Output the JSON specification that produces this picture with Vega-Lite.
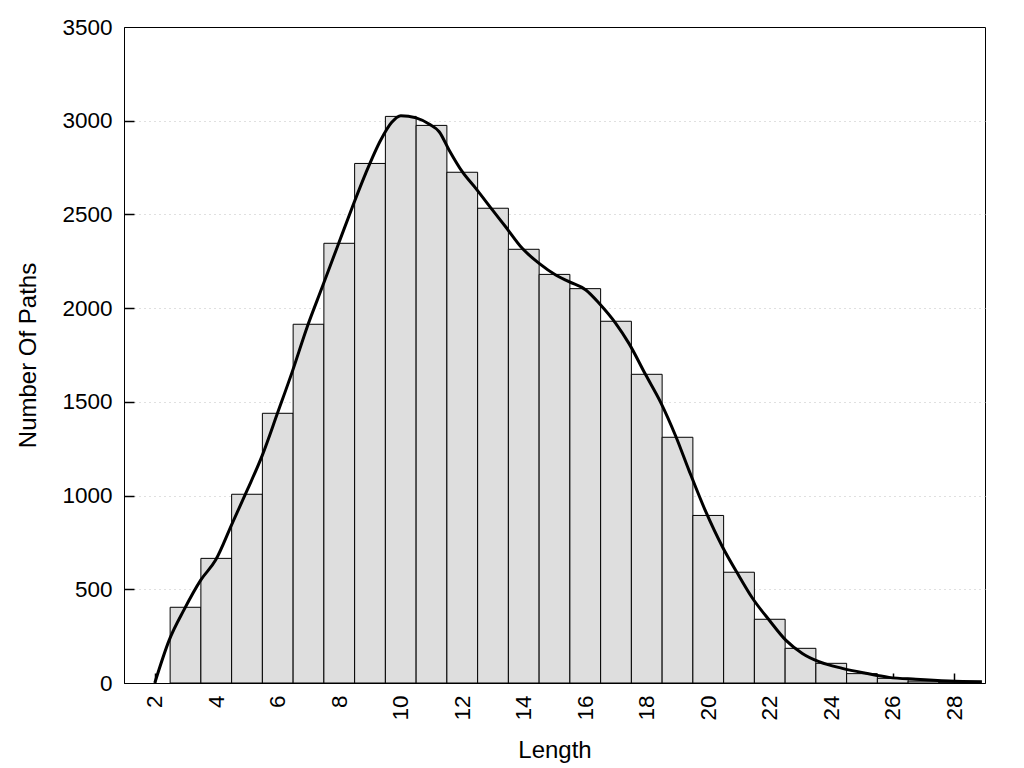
{
  "$schema": "https://vega.github.io/schema/vega-lite/v6.json",
  "width": 861,
  "height": 656,
  "autosize": {"type": "none"},
  "padding": {"left": 124, "top": 27, "right": 39, "bottom": 85},
  "background": "white",
  "config": {
    "view": {"stroke": "black", "strokeWidth": 1},
    "font": "Liberation Sans",
    "axis": {
      "labelFont": "Liberation Sans",
      "titleFont": "Liberation Sans",
      "labelFontSize": 22.5,
      "titleFontSize": 24,
      "titleFontWeight": "normal",
      "labelColor": "black",
      "titleColor": "black",
      "domainColor": "black",
      "tickColor": "black"
    }
  },
  "resolve": {"axis": {"x": "independent", "y": "independent"}},
  "datasets": {
    "bars": [
      {"length": 3, "lo": 2.5, "hi": 3.5, "count": 404},
      {"length": 4, "lo": 3.5, "hi": 4.5, "count": 665},
      {"length": 5, "lo": 4.5, "hi": 5.5, "count": 1007},
      {"length": 6, "lo": 5.5, "hi": 6.5, "count": 1439},
      {"length": 7, "lo": 6.5, "hi": 7.5, "count": 1914},
      {"length": 8, "lo": 7.5, "hi": 8.5, "count": 2346},
      {"length": 9, "lo": 8.5, "hi": 9.5, "count": 2772},
      {"length": 10, "lo": 9.5, "hi": 10.5, "count": 3023},
      {"length": 11, "lo": 10.5, "hi": 11.5, "count": 2975},
      {"length": 12, "lo": 11.5, "hi": 12.5, "count": 2725},
      {"length": 13, "lo": 12.5, "hi": 13.5, "count": 2533},
      {"length": 14, "lo": 13.5, "hi": 14.5, "count": 2314},
      {"length": 15, "lo": 14.5, "hi": 15.5, "count": 2180},
      {"length": 16, "lo": 15.5, "hi": 16.5, "count": 2104},
      {"length": 17, "lo": 16.5, "hi": 17.5, "count": 1930},
      {"length": 18, "lo": 17.5, "hi": 18.5, "count": 1647},
      {"length": 19, "lo": 18.5, "hi": 19.5, "count": 1311},
      {"length": 20, "lo": 19.5, "hi": 20.5, "count": 894},
      {"length": 21, "lo": 20.5, "hi": 21.5, "count": 591},
      {"length": 22, "lo": 21.5, "hi": 22.5, "count": 340},
      {"length": 23, "lo": 22.5, "hi": 23.5, "count": 185},
      {"length": 24, "lo": 23.5, "hi": 24.5, "count": 105},
      {"length": 25, "lo": 24.5, "hi": 25.5, "count": 50},
      {"length": 26, "lo": 25.5, "hi": 26.5, "count": 25},
      {"length": 27, "lo": 26.5, "hi": 27.5, "count": 10},
      {"length": 28, "lo": 27.5, "hi": 28.5, "count": 4}
    ],
    "curve": [
      {"length": 2.0, "count": 0},
      {"length": 2.47, "count": 229},
      {"length": 2.95, "count": 390},
      {"length": 3.5, "count": 550},
      {"length": 3.98, "count": 656},
      {"length": 4.52, "count": 852},
      {"length": 5.01, "count": 1030},
      {"length": 5.5, "count": 1216},
      {"length": 5.99, "count": 1439},
      {"length": 6.47, "count": 1660},
      {"length": 6.96, "count": 1901},
      {"length": 7.45, "count": 2114},
      {"length": 7.94, "count": 2328},
      {"length": 8.43, "count": 2541},
      {"length": 8.86, "count": 2719},
      {"length": 9.35, "count": 2897},
      {"length": 9.7, "count": 2990},
      {"length": 10.0, "count": 3027},
      {"length": 10.5, "count": 3015},
      {"length": 10.92, "count": 2982},
      {"length": 11.25, "count": 2941},
      {"length": 11.57, "count": 2844},
      {"length": 12.0, "count": 2728},
      {"length": 12.44, "count": 2639},
      {"length": 12.98, "count": 2524},
      {"length": 13.41, "count": 2434},
      {"length": 13.95, "count": 2319},
      {"length": 14.5, "count": 2239},
      {"length": 15.04, "count": 2177},
      {"length": 15.47, "count": 2141},
      {"length": 16.02, "count": 2097},
      {"length": 16.45, "count": 2026},
      {"length": 16.99, "count": 1919},
      {"length": 17.42, "count": 1812},
      {"length": 17.97, "count": 1643},
      {"length": 18.46, "count": 1495},
      {"length": 18.94, "count": 1318},
      {"length": 19.37, "count": 1136},
      {"length": 19.92, "count": 914},
      {"length": 20.46, "count": 727},
      {"length": 20.95, "count": 585},
      {"length": 21.44, "count": 452},
      {"length": 21.98, "count": 336},
      {"length": 22.52, "count": 229},
      {"length": 23.06, "count": 158},
      {"length": 23.6, "count": 114},
      {"length": 24.36, "count": 78},
      {"length": 25.12, "count": 52},
      {"length": 25.88, "count": 30},
      {"length": 26.75, "count": 20},
      {"length": 27.83, "count": 11},
      {"length": 28.9, "count": 7}
    ]
  },
  "layer": [
    {
      "data": {"name": "bars"},
      "mark": {"type": "rect", "fill": "#dedede", "stroke": "black", "strokeWidth": 1},
      "encoding": {
        "x": {
          "field": "lo", "type": "quantitative",
          "scale": {"domain": [1, 29], "nice": false, "zero": false},
          "axis": {
            "title": "Length",
            "values": [2, 4, 6, 8, 10, 12, 14, 16, 18, 20, 22, 24, 26, 28],
            "labelAngle": -90,
            "tickSize": 0,
            "labelPadding": 12,
            "grid": false,
            "titlePadding": 18
          }
        },
        "x2": {"field": "hi"},
        "y": {
          "field": "count", "type": "quantitative",
          "scale": {"domain": [0, 3500], "nice": false},
          "axis": {
            "title": "Number Of Paths",
            "format": "d",
            "values": [0, 500, 1000, 1500, 2000, 2500, 3000, 3500],
            "tickSize": 0,
            "labelPadding": 12,
            "grid": true,
            "gridColor": "#c0c0c0",
            "gridDash": [1, 4],
            "gridWidth": 1,
            "gridOpacity": {"condition": {"test": "datum.value >= 3500 || datum.value <= 0", "value": 0}, "value": 1},
            "titlePadding": 21
          }
        },
        "y2": {"datum": 0}
      }
    },
    {
      "data": {"name": "curve"},
      "mark": {"type": "line", "color": "black", "strokeWidth": 3, "interpolate": "monotone"},
      "encoding": {
        "x": {
          "field": "length", "type": "quantitative",
          "axis": {
            "title": null,
            "orient": "bottom",
            "offset": -10,
            "values": [2, 4, 6, 8, 10, 12, 14, 16, 18, 20, 22, 24, 26, 28],
            "labels": false,
            "domain": false,
            "grid": false,
            "ticks": true,
            "tickSize": 10,
            "tickWidth": 1.5
          }
        },
        "y": {
          "field": "count", "type": "quantitative",
          "axis": {
            "title": null,
            "orient": "left",
            "offset": -10,
            "values": [500, 1000, 1500, 2000, 2500, 3000],
            "labels": false,
            "domain": false,
            "grid": false,
            "ticks": true,
            "tickSize": 10,
            "tickWidth": 1.5
          }
        }
      }
    }
  ]
}
